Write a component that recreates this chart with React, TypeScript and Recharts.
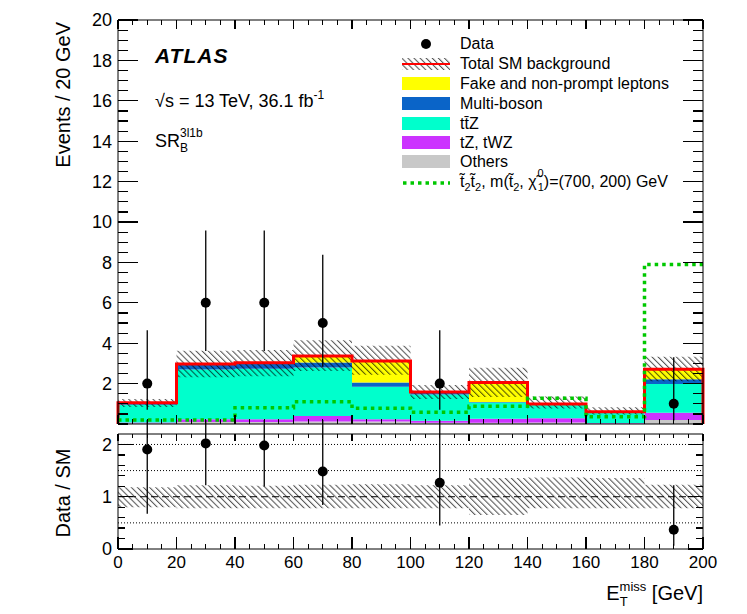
import React from 'react';
import { ComposedChart, Area, Line, Scatter, ErrorBar, XAxis, YAxis, ReferenceLine } from 'recharts';

// 20 GeV bins in E_T^miss
const binEdges = [0, 20, 40, 60, 80, 100, 120, 140, 160, 180, 200];
const binCenters = [10, 30, 50, 70, 90, 110, 130, 150, 170, 190];

// stacked SM backgrounds (events / bin), bottom to top
const others = [0.04, 0.1, 0.1, 0.12, 0.12, 0.06, 0.06, 0.08, 0.02, 0.2];
const tzTwz = [0.04, 0.14, 0.14, 0.28, 0.12, 0.1, 0.2, 0.2, 0.03, 0.36];
const ttZ = [0.87, 2.46, 2.5, 2.4, 1.61, 1.3, 0.8, 0.66, 0.52, 1.42];
const multiBoson = [0.08, 0.25, 0.26, 0.25, 0.21, 0.07, 0.03, 0.03, 0.03, 0.24];
const fakes = [0.02, 0.02, 0.03, 0.32, 1.06, 0.05, 0.96, 0.02, 0.01, 0.49];

// relative uncertainty on total SM
const bkgUncUp = [0.18, 0.22, 0.21, 0.23, 0.24, 0.22, 0.36, 0.37, 0.36, 0.23];
const bkgUncDown = [0.2, 0.22, 0.22, 0.22, 0.22, 0.22, 0.35, 0.22, 0.22, 0.22];

// signal point t2t2, m(t2, chi1) = (700, 200) GeV
const signal = [0.2, 0.2, 0.81, 1.1, 0.78, 0.58, 0.88, 1.27, 0.36, 7.9];

// observed events, Poisson errors
const observed = [2, 6, 6, 5, 0, 2, 0, 0, 0, 1];
const obsErrLow = [1.29, 2.38, 2.38, 2.16, 0, 1.29, 0, 0, 0, 0.83];
const obsErrHigh = [2.64, 3.58, 3.58, 3.38, 0, 2.64, 0, 0, 0, 2.3];

// axis labels
const xLabels = [0, 20, 40, 60, 80, 100, 120, 140, 160, 180, 200];
const mainYLabels = [2, 4, 6, 8, 10, 12, 14, 16, 18, 20];
const ratioYLabels = [0, 1, 2];
const ratioDotted = [0.5, 1.5, 2];

const COLORS = {
  others: '#c8c8c8',
  tz: '#cc33ff',
  ttz: '#00ffcc',
  multi: '#0a64c8',
  fake: '#ffff00',
  total: '#ff0000',
  signal: '#00c800',
};

const FONT = '"Liberation Sans", Arimo, Helvetica, Arial, sans-serif';

const xTicks = Array.from({ length: 41 }, (_, i) => i * 5);
const mainYTicks = Array.from({ length: 41 }, (_, i) => i * 0.5);
const ratioYTicks = Array.from({ length: 11 }, (_, i) => i * 0.2);

const total = binCenters.map((_, i) => others[i] + tzTwz[i] + ttZ[i] + multiBoson[i] + fakes[i]);
const last = binCenters.length - 1;

// step rows: one per bin edge, last edge repeats last bin
const stepRows = binEdges.map((edge, k) => {
  const i = Math.min(k, last);
  return {
    x: edge,
    others: others[i],
    tz: tzTwz[i],
    ttz: ttZ[i],
    multi: multiBoson[i],
    fake: fakes[i],
    signal: signal[i],
    band: [total[i] * (1 - bkgUncDown[i]), total[i] * (1 + bkgUncUp[i])],
    ratioBand: [1 - bkgUncDown[i], 1 + bkgUncUp[i]],
  };
});

const totalRows = [
  { x: binEdges[0], y: 0 },
  ...binEdges.map((edge, k) => ({ x: edge, y: total[Math.min(k, last)] })),
  { x: binEdges[binEdges.length - 1], y: 0 },
];

const dataRows = binCenters
  .map((c, i) => ({ x: c, y: observed[i], err: [obsErrLow[i], obsErrHigh[i]] }))
  .filter((r) => r.y > 0);

const ratioRows = binCenters
  .map((c, i) => ({
    x: c,
    y: observed[i] / total[i],
    err: [obsErrLow[i] / total[i], obsErrHigh[i] / total[i]],
  }))
  .filter((r) => r.y > 0);

type TickSpec = {
  side: 'left' | 'right' | 'top' | 'bottom';
  majors: number[];
  majorLen: number;
  minorLen: number;
  labels?: number[];
  fontSize?: number;
  gap?: number;
};

const near = (list: number[] | undefined, v: number) => !!list && list.some((m) => Math.abs(m - v) < 1e-6);

// ROOT style: tick marks point into the frame
const makeTick = (s: TickSpec) => (props: any) => {
  const x = Number(props.x);
  const y = Number(props.y);
  const v = Number(props.payload.value);
  const len = near(s.majors, v) ? s.majorLen : s.minorLen;
  let dx = 0;
  let dy = 0;
  if (s.side === 'left') dx = len;
  if (s.side === 'right') dx = -len;
  if (s.side === 'top') dy = len;
  if (s.side === 'bottom') dy = -len;
  const show = near(s.labels, v);
  const fs = s.fontSize || 17;
  return (
    <g>
      <path d={`M${x},${y}l${dx},${dy}`} stroke="#000" strokeWidth={1.2} fill="none" shapeRendering="crispEdges" />
      {show && s.side === 'left' && (
        <text x={x - (s.gap || 6)} y={y} dy="0.36em" textAnchor="end" fontSize={fs} fontFamily={FONT} fill="#000">
          {Math.round(v)}
        </text>
      )}
      {show && s.side === 'bottom' && (
        <text x={x} y={y + (s.gap || 18)} textAnchor="middle" fontSize={fs} fontFamily={FONT} fill="#000">
          {Math.round(v)}
        </text>
      )}
    </g>
  );
};

const axisLine = { stroke: '#000', strokeWidth: 1 };

function MainPanel() {
  return (
    <ComposedChart
      width={747}
      height={440}
      data={stepRows}
      margin={{ top: 10, right: 34, bottom: 10, left: 58 }}
    >
      <XAxis dataKey="x" type="number" domain={[0, 200]} ticks={xTicks} interval={0} height={6}
        tickLine={false} tickSize={0} tickMargin={0} axisLine={axisLine}
        tick={makeTick({ side: 'bottom', majors: xLabels, majorLen: 9, minorLen: 5 })} />
      <XAxis xAxisId="top" orientation="top" dataKey="x" type="number" domain={[0, 200]} ticks={xTicks} interval={0} height={10}
        tickLine={false} tickSize={0} tickMargin={0} axisLine={axisLine}
        tick={makeTick({ side: 'top', majors: xLabels, majorLen: 9, minorLen: 5 })} />
      <YAxis type="number" domain={[0, 20]} ticks={mainYTicks} interval={0} width={60}
        tickLine={false} tickSize={0} tickMargin={0} axisLine={axisLine}
        tick={makeTick({ side: 'left', majors: mainYLabels, majorLen: 20, minorLen: 10, labels: mainYLabels, fontSize: 18 })} />
      <YAxis yAxisId="right" orientation="right" dataKey="others" type="number" domain={[0, 20]} ticks={mainYTicks} interval={0} width={10}
        tickLine={false} tickSize={0} tickMargin={0} axisLine={axisLine}
        tick={makeTick({ side: 'right', majors: mainYLabels, majorLen: 20, minorLen: 10 })} />

      <Area type="stepAfter" dataKey="others" stackId="bkg" fill={COLORS.others} fillOpacity={1} stroke="none" dot={false} activeDot={false} isAnimationActive={false} />
      <Area type="stepAfter" dataKey="tz" stackId="bkg" fill={COLORS.tz} fillOpacity={1} stroke="none" dot={false} activeDot={false} isAnimationActive={false} />
      <Area type="stepAfter" dataKey="ttz" stackId="bkg" fill={COLORS.ttz} fillOpacity={1} stroke="none" dot={false} activeDot={false} isAnimationActive={false} />
      <Area type="stepAfter" dataKey="multi" stackId="bkg" fill={COLORS.multi} fillOpacity={1} stroke="none" dot={false} activeDot={false} isAnimationActive={false} />
      <Area type="stepAfter" dataKey="fake" stackId="bkg" fill={COLORS.fake} fillOpacity={1} stroke="none" dot={false} activeDot={false} isAnimationActive={false} />

      <Area type="stepAfter" dataKey="band" fill="url(#hatch)" fillOpacity={1} stroke="none" dot={false} activeDot={false} isAnimationActive={false} />

      <Line type="stepAfter" data={totalRows} dataKey="y" stroke={COLORS.total} strokeWidth={3} dot={false} activeDot={false} isAnimationActive={false} />
      <Line type="stepAfter" dataKey="signal" stroke={COLORS.signal} strokeWidth={3.5} strokeDasharray="3.5 4" dot={false} activeDot={false} isAnimationActive={false} />

      <Scatter data={dataRows} dataKey="y" fill="#000" isAnimationActive={false}
        shape={(p: any) => <circle cx={p.cx} cy={p.cy} r={5} fill="#000" />}>
        <ErrorBar dataKey="err" direction="y" width={0} stroke="#000" strokeWidth={1.3} isAnimationActive={false} />
      </Scatter>
    </ComposedChart>
  );
}

function RatioPanel() {
  return (
    <ComposedChart
      width={747}
      height={194}
      data={stepRows}
      margin={{ top: 4, right: 34, bottom: 35, left: 58 }}
    >
      <XAxis dataKey="x" type="number" domain={[0, 200]} ticks={xTicks} interval={0} height={30}
        tickLine={false} tickSize={0} tickMargin={0} axisLine={axisLine}
        tick={makeTick({ side: 'bottom', majors: xLabels, majorLen: 12, minorLen: 5, labels: xLabels, fontSize: 17, gap: 19 })} />
      <XAxis xAxisId="top" orientation="top" dataKey="x" type="number" domain={[0, 200]} ticks={xTicks} interval={0} height={10}
        tickLine={false} tickSize={0} tickMargin={0} axisLine={axisLine}
        tick={makeTick({ side: 'top', majors: xLabels, majorLen: 7, minorLen: 4 })} />
      <YAxis type="number" domain={[0, 2.2]} ticks={ratioYTicks} interval={0} width={60} allowDataOverflow
        tickLine={false} tickSize={0} tickMargin={0} axisLine={axisLine}
        tick={makeTick({ side: 'left', majors: ratioYLabels, majorLen: 15, minorLen: 7, labels: ratioYLabels, fontSize: 18 })} />
      <YAxis yAxisId="right" orientation="right" dataKey="others" type="number" domain={[0, 2.2]} ticks={ratioYTicks} interval={0} width={10}
        tickLine={false} tickSize={0} tickMargin={0} axisLine={axisLine}
        tick={makeTick({ side: 'right', majors: ratioYLabels, majorLen: 15, minorLen: 7 })} />

      {ratioDotted.map((v) => (
        <ReferenceLine key={v} y={v} stroke="#000" strokeWidth={1} strokeDasharray="1 2" />
      ))}
      <ReferenceLine y={1} stroke="#000" strokeWidth={1} strokeDasharray="7 4" />

      <Area type="stepAfter" dataKey="ratioBand" fill="url(#hatch)" fillOpacity={1} stroke="none" dot={false} activeDot={false} isAnimationActive={false} />

      <Scatter data={ratioRows} dataKey="y" fill="#000" isAnimationActive={false}
        shape={(p: any) => <circle cx={p.cx} cy={p.cy} r={5} fill="#000" />}>
        <ErrorBar dataKey="err" direction="y" width={0} stroke="#000" strokeWidth={1.3} isAnimationActive={false} />
      </Scatter>
    </ComposedChart>
  );
}

function Overlay() {
  const sub = 12;
  const box = (y: number, fill: string) => <rect x={402} y={y} width={48} height={13} fill={fill} />;
  return (
    <svg width={747} height={614} style={{ position: 'absolute', left: 0, top: 0, pointerEvents: 'none' }} fontFamily={FONT}>
      {/* labels */}
      <text x={155} y={63} fontSize={21} fontWeight="bold" fontStyle="italic" letterSpacing={1}>ATLAS</text>
      <text x={155} y={107} fontSize={18}>
        {'\u221As = 13 TeV, 36.1 fb'}
        <tspan fontSize={sub} dy={-8}>-1</tspan>
      </text>
      <text x={155} y={147} fontSize={18}>
        SR
        <tspan fontSize={sub} dy={5}>B</tspan>
        <tspan fontSize={sub} dx={-8} dy={-15}>3l1b</tspan>
      </text>

      {/* axis titles */}
      <text transform="translate(70,22) rotate(-90)" textAnchor="end" fontSize={20}>Events / 20 GeV</text>
      <text transform="translate(70,493) rotate(-90)" textAnchor="middle" fontSize={20}>Data / SM</text>
      <text x={703} y={600} textAnchor="end" fontSize={20}>
        E
        <tspan fontSize={13} dy={6}>T</tspan>
        <tspan fontSize={13} dx={-8} dy={-15}>miss</tspan>
        <tspan dy={9}> [GeV]</tspan>
      </text>

      {/* legend */}
      <circle cx={426} cy={44} r={5} fill="#000" />
      <text x={460} y={49} fontSize={16}>Data</text>

      <rect x={402} y={58} width={48} height={12} fill="url(#hatch)" />
      <line x1={402} y1={64} x2={450} y2={64} stroke={COLORS.total} strokeWidth={2} />
      <text x={460} y={69} fontSize={16}>Total SM background</text>

      {box(77, COLORS.fake)}
      <text x={460} y={89} fontSize={16}>Fake and non-prompt leptons</text>
      {box(97, COLORS.multi)}
      <text x={460} y={109} fontSize={16}>Multi-boson</text>
      {box(117, COLORS.ttz)}
      <text x={460} y={129} fontSize={16}>{'tt\u0304Z'}</text>
      {box(136, COLORS.tz)}
      <text x={460} y={148} fontSize={16}>tZ, tWZ</text>
      {box(155, COLORS.others)}
      <text x={460} y={167} fontSize={16}>Others</text>

      <line x1={403} y1={183} x2={450} y2={183} stroke={COLORS.signal} strokeWidth={3.5} strokeDasharray="3.5 4" />
      <text x={460} y={187} fontSize={16}>
        {'t\u0303'}
        <tspan fontSize={11} dy={4}>2</tspan>
        <tspan dy={-4}>{'t\u0303'}</tspan>
        <tspan fontSize={11} dy={4}>2</tspan>
        <tspan dy={-4}>{', m(t\u0303'}</tspan>
        <tspan fontSize={11} dy={4}>2</tspan>
        <tspan dy={-4}>{', \u03C7\u0303'}</tspan>
        <tspan fontSize={11} dx={1} dy={-10}>0</tspan>
        <tspan fontSize={11} dx={-6} dy={14}>1</tspan>
        <tspan dy={-4}>)=(700, 200) GeV</tspan>
      </text>
    </svg>
  );
}

export default function App() {
  return (
    <div style={{ position: 'absolute', left: 0, top: 0, width: 747, height: 614, background: '#fff', fontFamily: FONT }}>
      <svg width={0} height={0} style={{ position: 'absolute' }}>
        <defs>
          <pattern id="hatch" width={4.3} height={4.3} patternUnits="userSpaceOnUse" patternTransform="rotate(45)">
            <line x1={0} y1={2} x2={4.3} y2={2} stroke="#000" strokeWidth={0.7} />
          </pattern>
        </defs>
      </svg>
      <div style={{ position: 'absolute', left: 0, top: 0 }}>
        <MainPanel />
      </div>
      <div style={{ position: 'absolute', left: 0, top: 420 }}>
        <RatioPanel />
      </div>
      <Overlay />
    </div>
  );
}
